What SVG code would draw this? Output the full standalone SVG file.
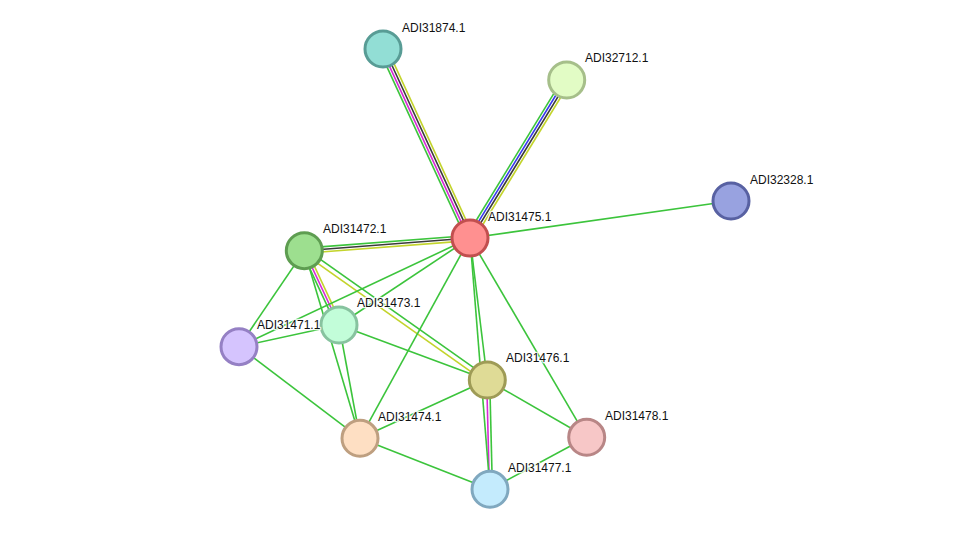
<svg xmlns="http://www.w3.org/2000/svg" width="975" height="535" viewBox="0 0 975 535">
<style>
.e line, line.e{stroke-width:1.6;fill:none}
.g{stroke:#3cc43c}
.m{stroke:#d62ad6}
.k{stroke:#3a3a3a}
.y{stroke:#c3d42c}
.b{stroke:#3838ee}
.n circle{stroke-width:3}
.n text{font-family:"Liberation Sans",Arial,sans-serif;font-size:12px;fill:#111;stroke:#fff;stroke-width:2.5;stroke-opacity:0.85;paint-order:stroke;stroke-linejoin:round}
</style>
<rect width="975" height="535" fill="#fff"/>
<g id="connectors" class="e">
  <g transform="translate(470,238) rotate(-114.72)">
    <line class="g" x1="0" y1="-3.9" x2="208" y2="-3.9"/>
    <line class="m" x1="0" y1="-1.3" x2="208" y2="-1.3"/>
    <line class="k" x1="0" y1="1.3" x2="208" y2="1.3"/>
    <line class="y" x1="0" y1="3.9" x2="208" y2="3.9"/>
  </g>
  <g transform="translate(470,238) rotate(-58.53)">
    <line class="g" x1="0" y1="-3.9" x2="185" y2="-3.9"/>
    <line class="b" x1="0" y1="-1.3" x2="185" y2="-1.3"/>
    <line class="k" x1="0" y1="1.3" x2="185" y2="1.3"/>
    <line class="y" x1="0" y1="3.9" x2="185" y2="3.9"/>
  </g>
  <g transform="translate(304.3,250.7) rotate(-4.38)">
    <line class="g" x1="0" y1="-2.6" x2="166" y2="-2.6"/>
    <line class="k" x1="0" y1="0" x2="166" y2="0"/>
    <line class="y" x1="0" y1="2.6" x2="166" y2="2.6"/>
  </g>
  <g transform="translate(304.3,250.7) rotate(64.96)">
    <line class="g" x1="0" y1="2.6" x2="82" y2="2.6"/>
    <line class="m" x1="0" y1="0" x2="82" y2="0"/>
    <line class="y" x1="0" y1="-2.6" x2="82" y2="-2.6"/>
  </g>
  <g transform="translate(304.3,250.7) rotate(35.25)">
    <line class="g" x1="0" y1="-2.2" x2="224" y2="-2.2"/>
    <line class="y" x1="0" y1="2.6" x2="224" y2="2.6"/>
  </g>
  <g transform="translate(487.3,380) rotate(88.58)">
    <line class="m" x1="0" y1="0.6" x2="109" y2="0.6"/>
    <line class="g" x1="0" y1="-2.4" x2="109" y2="-2.4"/>
  </g>
  <line class="g" x1="470" y1="238" x2="731" y2="201"/>
  <line class="g" x1="470" y1="238" x2="339" y2="325"/>
  <line class="g" x1="470" y1="238" x2="239" y2="346.7"/>
  <line class="g" x1="470" y1="238" x2="360" y2="438.3"/>
  <line class="g" x1="470" y1="238" x2="487.3" y2="380"/>
  <line class="g" x1="470" y1="238" x2="490" y2="489.3"/>
  <line class="g" x1="470" y1="238" x2="586.7" y2="437.3"/>
  <line class="g" x1="304.3" y1="250.7" x2="239" y2="346.7"/>
  <line class="g" x1="304.3" y1="250.7" x2="360" y2="438.3"/>
  <line class="g" x1="339" y1="325" x2="239" y2="346.7"/>
  <line class="g" x1="339" y1="325" x2="487.3" y2="380"/>
  <line class="g" x1="339" y1="325" x2="360" y2="438.3"/>
  <line class="g" x1="239" y1="346.7" x2="360" y2="438.3"/>
  <line class="g" x1="360" y1="438.3" x2="487.3" y2="380"/>
  <line class="g" x1="360" y1="438.3" x2="490" y2="489.3"/>
  <line class="g" x1="487.3" y1="380" x2="586.7" y2="437.3"/>
  <line class="g" x1="586.7" y1="437.3" x2="490" y2="489.3"/>
</g>
<g id="ADI31874.1" class="n"><circle cx="383" cy="49" r="18" fill="#92ded5" stroke="#589c95"/><text x="402" y="32">ADI31874.1</text></g>
<g id="ADI32712.1" class="n"><circle cx="566.7" cy="80" r="18" fill="#e2fcc5" stroke="#a6bf8a"/><text x="585" y="62">ADI32712.1</text></g>
<g id="ADI32328.1" class="n"><circle cx="731" cy="201" r="18" fill="#98a2e0" stroke="#5861a2"/><text x="750" y="184">ADI32328.1</text></g>
<g id="ADI31475.1" class="n"><circle cx="470" cy="238" r="18" fill="#ff9090" stroke="#c24f4f"/><text x="488" y="221">ADI31475.1</text></g>
<g id="ADI31472.1" class="n"><circle cx="304.3" cy="250.7" r="18" fill="#9ddf8f" stroke="#5e9d51"/><text x="323" y="233">ADI31472.1</text></g>
<g id="ADI31473.1" class="n"><circle cx="339" cy="325" r="18" fill="#c2fdd9" stroke="#87c39f"/><text x="357" y="307">ADI31473.1</text></g>
<g id="ADI31471.1" class="n"><circle cx="239" cy="346.7" r="18" fill="#d5c4fe" stroke="#9580c4"/><text x="257" y="329">ADI31471.1</text></g>
<g id="ADI31476.1" class="n"><circle cx="487.3" cy="380" r="18" fill="#dfdb96" stroke="#9e9b56"/><text x="506" y="362">ADI31476.1</text></g>
<g id="ADI31474.1" class="n"><circle cx="360" cy="438.3" r="18" fill="#fedfc3" stroke="#be9f80"/><text x="378" y="421">ADI31474.1</text></g>
<g id="ADI31478.1" class="n"><circle cx="586.7" cy="437.3" r="18" fill="#f7c7c7" stroke="#b88686"/><text x="605" y="420">ADI31478.1</text></g>
<g id="ADI31477.1" class="n"><circle cx="490" cy="489.3" r="18" fill="#c4ebfd" stroke="#80a8bf"/><text x="508" y="472">ADI31477.1</text></g>
</svg>
